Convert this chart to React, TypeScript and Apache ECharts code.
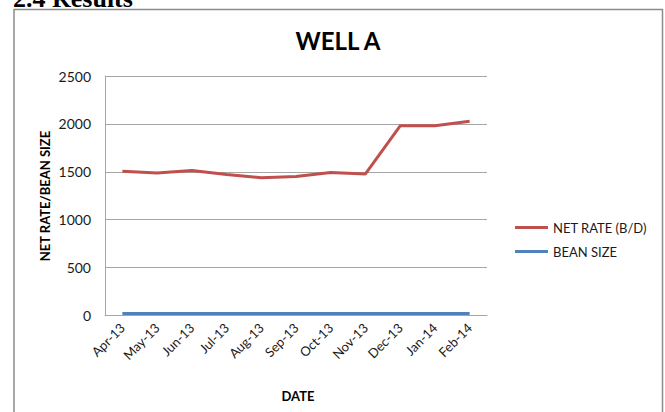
import React, { useEffect, useRef } from "react";
import * as echarts from "echarts";

const categories = ["Apr-13", "May-13", "Jun-13", "Jul-13", "Aug-13", "Sep-13", "Oct-13", "Nov-13", "Dec-13", "Jan-14", "Feb-14"];
const netRate = [1505, 1487, 1513, 1473, 1438, 1452, 1493, 1478, 1980, 1980, 2027];
const beanSize = [20, 20, 20, 20, 20, 20, 20, 20, 20, 20, 20];
const seriesNames = ["NET RATE (B/D)", "BEAN SIZE"];
const FONT = "Lato, 'Open Sans', sans-serif";

export default function App() {
  const ref = useRef<HTMLDivElement>(null);
  useEffect(() => {
    if (!ref.current) return;
    const chart = echarts.init(ref.current, null, { renderer: "svg" });
    chart.setOption({
      animation: false,
      backgroundColor: "#ffffff",
      textStyle: { fontFamily: FONT },
      grid: { left: 105, right: 178, top: 76, bottom: 96.5, containLabel: false },
      xAxis: {
        type: "category",
        data: categories,
        boundaryGap: true,
        axisLine: { show: true, lineStyle: { color: "#a6a6a6", width: 1 } },
        axisTick: { show: false },
        axisLabel: { rotate: 45, fontSize: 13, color: "#1a1a1a", fontFamily: FONT, margin: 10, interval: 0 },
      },
      yAxis: {
        type: "value",
        min: 0,
        max: 2500,
        interval: 500,
        axisLine: { show: true, lineStyle: { color: "#a6a6a6", width: 1 } },
        axisTick: { show: false },
        splitLine: { show: true, lineStyle: { color: "#a6a6a6", width: 1 } },
        axisLabel: { fontSize: 14, color: "#1a1a1a", fontFamily: FONT, margin: 14, formatter: (v: number) => String(v) },
      },
      legend: {
        orient: "vertical",
        left: 510,
        top: 216,
        itemWidth: 33,
        itemHeight: 3,
        itemGap: 11,
        icon: "rect",
        textStyle: { fontSize: 13, color: "#1a1a1a", fontFamily: FONT },
        data: seriesNames,
      },
      series: [
        {
          name: seriesNames[0],
          type: "line",
          data: netRate,
          showSymbol: false,
          symbol: "none",
          lineStyle: { color: "#c0504d", width: 3 },
          itemStyle: { color: "#c0504d" },
        },
        {
          name: seriesNames[1],
          type: "line",
          data: beanSize,
          showSymbol: false,
          symbol: "none",
          lineStyle: { color: "#4f81bd", width: 3 },
          itemStyle: { color: "#4f81bd" },
        },
      ],
      graphic: [
        {
          type: "text",
          left: 13,
          top: -15,
          style: { text: "2.4 Results", font: "bold 26px 'Liberation Serif', 'DejaVu Serif', serif", fill: "#000" },
        },
        {
          type: "rect",
          shape: { x: 14, y: 9.5, width: 648.5, height: 420 },
          style: { fill: "none", stroke: "#8c8c8c", lineWidth: 1.5 },
          silent: true,
        },
        {
          type: "text",
          x: 338,
          y: 40,
          style: { text: "WELL A", font: `bold 24px ${FONT}`, fill: "#000", textAlign: "center", textVerticalAlign: "middle" },
        },
        {
          type: "text",
          x: 298,
          y: 396,
          style: { text: "DATE", font: `bold 13px ${FONT}`, fill: "#000", textAlign: "center", textVerticalAlign: "middle" },
        },
        {
          type: "text",
          x: 45,
          y: 196,
          rotation: Math.PI / 2,
          style: { text: "NET RATE/BEAN SIZE", font: `bold 13px ${FONT}`, fill: "#000", textAlign: "center", textVerticalAlign: "middle" },
        },
      ],
    });
    return () => chart.dispose();
  }, []);
  return <div ref={ref} style={{ position: "fixed", left: 0, top: 0, width: 665, height: 412 }} />;
}
